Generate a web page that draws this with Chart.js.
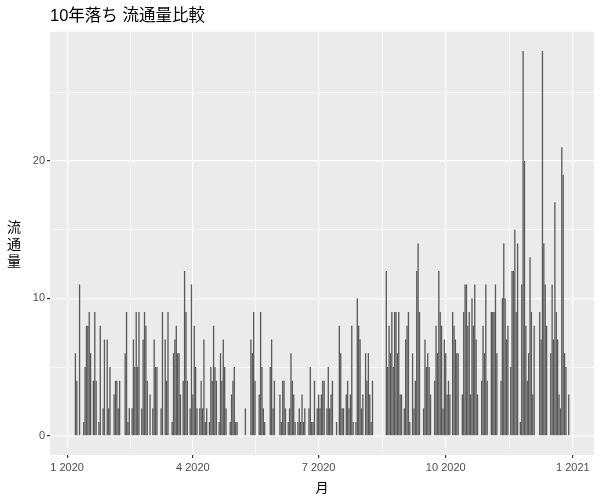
<!DOCTYPE html>
<html>
<head>
<meta charset="utf-8">
<script src="https://cdn.jsdelivr.net/npm/chart.js@4.4.0/dist/chart.umd.min.js"></script>
<style>
  html, body { margin: 0; padding: 0; background: #ffffff; }
  #wrap { width: 600px; height: 500px; }
</style>
</head>
<body>
<div id="wrap"><canvas id="chart" width="600" height="500"></canvas></div>
<script>
// daily counts, index 0 = 2020-01-01 (0 = no bar that day)
const dayValues = [
  0, 0, 0, 0, 0, 0, 6, 4, 0, 11,
  0, 0, 1, 5, 8, 8, 9, 6, 0, 4,
  9, 4, 0, 1, 8, 0, 2, 7, 0, 7,
  2, 5, 0, 0, 3, 4, 4, 2, 4, 0,
  0, 0, 6, 9, 1, 2, 0, 2, 7, 5,
  9, 5, 9, 0, 2, 7, 9, 8, 4, 0,
  3, 0, 2, 7, 5, 5, 0, 0, 2, 9,
  0, 7, 4, 9, 0, 0, 1, 6, 7, 8,
  6, 6, 3, 0, 4, 12, 9, 4, 0, 2,
  11, 3, 8, 5, 2, 0, 2, 4, 2, 7,
  1, 2, 0, 1, 5, 4, 8, 5, 4, 0,
  1, 6, 4, 7, 5, 2, 0, 0, 1, 3,
  4, 5, 1, 1, 0, 0, 0, 0, 0, 2,
  0, 0, 0, 7, 6, 9, 4, 0, 0, 3,
  9, 5, 2, 1, 0, 0, 0, 5, 7, 2,
  4, 0, 0, 0, 3, 1, 4, 4, 2, 0,
  1, 2, 6, 4, 3, 1, 0, 1, 2, 1,
  3, 1, 2, 0, 0, 2, 5, 1, 1, 4,
  0, 2, 3, 2, 3, 4, 4, 0, 2, 5,
  2, 3, 4, 0, 0, 1, 0, 8, 6, 2,
  2, 0, 3, 4, 2, 3, 8, 1, 0, 1,
  10, 8, 7, 2, 3, 0, 6, 4, 6, 3,
  1, 4, 0, 0, 0, 0, 0, 0, 0, 0,
  0, 12, 5, 8, 6, 9, 5, 9, 9, 6,
  9, 3, 3, 0, 2, 7, 8, 9, 1, 0,
  6, 2, 4, 12, 14, 9, 0, 0, 2, 7,
  5, 6, 5, 3, 0, 0, 4, 8, 6, 12,
  9, 8, 2, 7, 6, 3, 4, 3, 0, 9,
  8, 7, 6, 6, 0, 0, 3, 9, 11, 11,
  8, 9, 3, 10, 8, 11, 7, 3, 0, 0,
  4, 8, 6, 11, 4, 0, 0, 9, 9, 9,
  11, 6, 0, 0, 4, 10, 14, 10, 7, 8,
  0, 5, 12, 12, 15, 9, 14, 0, 1, 11,
  28, 20, 8, 4, 6, 13, 9, 3, 8, 0,
  0, 0, 9, 7, 28, 14, 11, 8, 0, 0,
  6, 11, 7, 17, 9, 7, 3, 2, 21, 19,
  6, 5, 0, 3, 0, 0
];

const monthTicks = [0, 91, 182, 274, 366];
const monthLabels = ['1 2020', '4 2020', '7 2020', '10 2020', '1 2021'];
const minorMonthTicks = [45.5, 136.5, 228, 320];
const valueTicks = [0, 10, 20];
const minorValueTicks = [5, 15, 25];

const chartTitle = '10年落ち 流通量比較';
const xTitle = '月';
const yTitle = '流通量';

const baseFont = "'Liberation Sans', 'Noto Sans CJK JP', sans-serif";

// only days that actually have a count get a bar
const barPoints = dayValues
    .map((v, i) => ({ x: i, y: v }))
    .filter(p => p.y > 0);

// grey panel behind the plot area
const panelPlugin = {
    id: 'panel',
    beforeDraw(chart) {
        const ctx = chart.ctx;
        const a = chart.chartArea;
        ctx.save();
        ctx.fillStyle = '#ffffff';
        ctx.fillRect(0, 0, chart.width, chart.height);
        ctx.fillStyle = '#EBEBEB';
        ctx.fillRect(a.left, a.top, a.right - a.left, a.bottom - a.top);
        ctx.restore();
    }
};

// y axis title written top to bottom, one character per line
const yTitlePlugin = {
    id: 'yTitle',
    afterDraw(chart) {
        const ctx = chart.ctx;
        const a = chart.chartArea;
        const chars = Array.from(yTitle);
        const step = 17;
        const mid = (a.top + a.bottom) / 2;
        ctx.save();
        ctx.fillStyle = '#000000';
        ctx.font = "14px 'Noto Sans CJK JP', sans-serif";
        ctx.textAlign = 'center';
        ctx.textBaseline = 'middle';
        chars.forEach((c, i) => {
            ctx.fillText(c, 14, mid + (i - (chars.length - 1) / 2) * step);
        });
        ctx.restore();
    }
};

const ctx = document.getElementById('chart').getContext('2d');
new Chart(ctx, {
    type: 'bar',
    data: {
        datasets: [{
            data: barPoints,
            backgroundColor: '#595959',
            borderWidth: 0,
            barPercentage: 0.95,
            categoryPercentage: 1.0,
            xAxisID: 'x',
            yAxisID: 'y'
        }]
    },
    options: {
        responsive: false,
        animation: false,
        devicePixelRatio: 1,
        layout: { padding: { left: 0, right: 6, top: 0, bottom: 0 } },
        plugins: {
            legend: { display: false },
            tooltip: { enabled: false },
            title: {
                display: true,
                text: chartTitle,
                align: 'start',
                fullSize: false,
                color: '#000000',
                font: { family: baseFont, size: 16.5, weight: 'normal' },
                padding: { top: 7, bottom: 5 }
            }
        },
        scales: {
            x: {
                type: 'linear',
                position: 'bottom',
                min: -12.4,
                max: 381.3,
                offset: false,
                grid: { color: '#ffffff', lineWidth: 1.2, offset: false, tickColor: '#333333', tickLength: 3 },
                border: { display: false },
                ticks: {
                    color: '#4D4D4D',
                    font: { family: baseFont, size: 11 },
                    padding: 3,
                    autoSkip: false,
                    maxRotation: 0,
                    callback: (v) => {
                        const k = monthTicks.indexOf(v);
                        return k >= 0 ? monthLabels[k] : '';
                    }
                },
                afterBuildTicks: (s) => { s.ticks = monthTicks.map(v => ({ value: v })); },
                title: {
                    display: true,
                    text: xTitle,
                    color: '#000000',
                    font: { family: baseFont, size: 13 },
                    padding: { top: 2, bottom: 4 }
                },
                afterFit: (s) => { s.height = 45; }
            },
            x2: {
                type: 'linear',
                position: 'bottom',
                min: -12.4,
                max: 381.3,
                offset: false,
                grid: { color: '#ffffff', lineWidth: 0.6, offset: false, drawTicks: false },
                border: { display: false },
                ticks: { display: false },
                afterBuildTicks: (s) => { s.ticks = minorMonthTicks.map(v => ({ value: v })); },
                afterFit: (s) => { s.height = 0; }
            },
            y: {
                type: 'linear',
                position: 'left',
                min: -1.4,
                max: 29.4,
                grid: { color: '#ffffff', lineWidth: 1.2, tickColor: '#333333', tickLength: 3 },
                border: { display: false },
                ticks: {
                    color: '#4D4D4D',
                    font: { family: baseFont, size: 11 },
                    padding: 2
                },
                afterBuildTicks: (s) => { s.ticks = valueTicks.map(v => ({ value: v })); },
                afterFit: (s) => { s.width = 50; }
            },
            y2: {
                type: 'linear',
                position: 'left',
                min: -1.4,
                max: 29.4,
                grid: { color: '#ffffff', lineWidth: 0.6, drawTicks: false },
                border: { display: false },
                ticks: { display: false },
                afterBuildTicks: (s) => { s.ticks = minorValueTicks.map(v => ({ value: v })); },
                afterFit: (s) => { s.width = 0; }
            }
        }
    },
    plugins: [panelPlugin, yTitlePlugin]
});
</script>
</body>
</html>
